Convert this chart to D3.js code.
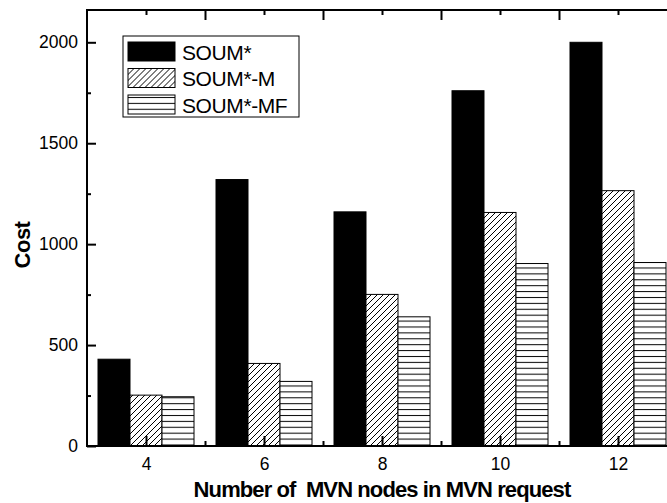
<!DOCTYPE html>
<html>
<head>
<meta charset="utf-8">
<script src="https://cdn.jsdelivr.net/npm/d3@7"></script>
<style>
  body { margin: 0; background: #fff; }
  text { font-family: "Liberation Sans", Arial, sans-serif; }
</style>
</head>
<body>
<script>
var categories = [4, 6, 8, 10, 12];
var seriesNames = ["SOUM*", "SOUM*-M", "SOUM*-MF"];
var soum = [430, 1320, 1160, 1760, 2000];
var soumM = [252, 409, 751, 1157, 1265];
var soumMF = [244, 320, 640, 904, 909];
var yTicks = [0, 500, 1000, 1500, 2000];

var W = 667, H = 503;
var plotLeft = 87, plotRight = 677, plotTop = 10, plotBottom = 446;

var svg = d3.select("body").append("svg")
    .attr("width", W)
    .attr("height", H);

var defs = svg.append("defs");
var diag = defs.append("pattern")
    .attr("id", "diag")
    .attr("patternUnits", "userSpaceOnUse")
    .attr("width", 6).attr("height", 6);
diag.append("rect").attr("width", 6).attr("height", 6).attr("fill", "#fff");
diag.append("path")
    .attr("d", "M-1,7 L7,-1 M-4,4 L4,-4 M2,10 L10,2")
    .attr("stroke", "#000").attr("stroke-width", 1);

var horiz = defs.append("pattern")
    .attr("id", "horiz")
    .attr("patternUnits", "userSpaceOnUse")
    .attr("width", 6).attr("height", 5.9);
horiz.append("rect").attr("width", 6).attr("height", 5.9).attr("fill", "#fff");
horiz.append("line")
    .attr("x1", 0).attr("x2", 6).attr("y1", 2.5).attr("y2", 2.5)
    .attr("stroke", "#000").attr("stroke-width", 1);

var fills = ["#000", "url(#diag)", "url(#horiz)"];

var x = d3.scaleLinear().domain([3, 13]).range([plotLeft, plotRight]);
var y = d3.scaleLinear().domain([0, 2160]).range([plotBottom, plotTop]);
var inner = d3.scaleBand().domain([0, 1, 2]).range([-48, 48]);

var allSeries = [soum, soumM, soumMF];

// bars
allSeries.forEach(function(vals, si) {
  svg.append("g").selectAll("rect")
    .data(vals)
    .enter().append("rect")
    .attr("x", function(d, i) { return x(categories[i]) + inner(si); })
    .attr("y", function(d) { return y(d); })
    .attr("width", inner.bandwidth())
    .attr("height", function(d) { return y(0) - y(d); })
    .attr("fill", fills[si])
    .attr("stroke", "#000")
    .attr("stroke-width", 1);
});

// frame
svg.append("rect")
    .attr("x", plotLeft).attr("y", plotTop)
    .attr("width", plotRight - plotLeft).attr("height", plotBottom - plotTop)
    .attr("fill", "none")
    .attr("stroke", "#000")
    .attr("stroke-width", 2);

// y axis
var yAxis = d3.axisLeft(y).tickValues(yTicks).tickSize(-9).tickPadding(9).tickFormat(d3.format("d"));
var gy = svg.append("g").attr("transform", "translate(" + plotLeft + ",0)").call(yAxis);
gy.select(".domain").remove();
gy.selectAll("line").attr("stroke-width", 2);
gy.selectAll("text").attr("font-size", 17.5).attr("fill", "#000");

var yMinor = d3.axisLeft(y).tickValues([250, 750, 1250, 1750]).tickSize(-4).tickFormat("");
var gym = svg.append("g").attr("transform", "translate(" + plotLeft + ",0)").call(yMinor);
gym.select(".domain").remove();
gym.selectAll("line").attr("stroke-width", 2);

// x axis bottom
var xAxis = d3.axisBottom(x).tickValues(categories).tickSize(-10).tickPadding(12).tickFormat(d3.format("d"));
var gx = svg.append("g").attr("transform", "translate(0," + plotBottom + ")").call(xAxis);
gx.select(".domain").remove();
gx.selectAll("line").attr("stroke-width", 2);
gx.selectAll("text").attr("font-size", 17.5).attr("fill", "#000");

var xMinor = d3.axisBottom(x).tickValues([5, 7, 9, 11]).tickSize(-5).tickFormat("");
var gxm = svg.append("g").attr("transform", "translate(0," + plotBottom + ")").call(xMinor);
gxm.select(".domain").remove();
gxm.selectAll("line").attr("stroke-width", 2);

// top axis
var topMajor = d3.axisTop(x).tickValues([5, 7, 9, 11]).tickSize(-10).tickFormat("");
var gt = svg.append("g").attr("transform", "translate(0," + plotTop + ")").call(topMajor);
gt.select(".domain").remove();
gt.selectAll("line").attr("stroke-width", 2);
var topMinor = d3.axisTop(x).tickValues(categories).tickSize(-5).tickFormat("");
var gtm = svg.append("g").attr("transform", "translate(0," + plotTop + ")").call(topMinor);
gtm.select(".domain").remove();
gtm.selectAll("line").attr("stroke-width", 2);

// axis titles
svg.append("text")
    .attr("x", (plotLeft + plotRight) / 2)
    .attr("y", 497)
    .attr("text-anchor", "middle")
    .attr("font-size", 22)
    .attr("font-weight", "bold")
    .attr("letter-spacing", -0.9)
    .style("white-space", "pre")
    .text("Number of  MVN nodes in MVN request");

svg.append("text")
    .attr("transform", "translate(30,245) rotate(-90)")
    .attr("text-anchor", "middle")
    .attr("font-size", 22)
    .attr("font-weight", "bold")
    .attr("letter-spacing", -0.5)
    .text("Cost");

// legend
var lg = svg.append("g");
lg.append("rect")
    .attr("x", 123).attr("y", 36)
    .attr("width", 176).attr("height", 81)
    .attr("fill", "#fff")
    .attr("stroke", "#000")
    .attr("stroke-width", 1);

var rows = lg.selectAll("g.row")
    .data(seriesNames)
    .enter().append("g")
    .attr("class", "row")
    .attr("transform", function(d, i) { return "translate(128," + (42 + i * 26.5) + ")"; });
rows.append("rect")
    .attr("width", 47).attr("height", 19)
    .attr("fill", function(d, i) { return fills[i]; })
    .attr("stroke", "#000")
    .attr("stroke-width", 1);
rows.append("text")
    .attr("x", 54).attr("y", 17.5)
    .attr("font-size", 21)
    .attr("letter-spacing", -0.4)
    .attr("fill", "#000")
    .text(function(d) { return d; });
</script>
</body>
</html>
